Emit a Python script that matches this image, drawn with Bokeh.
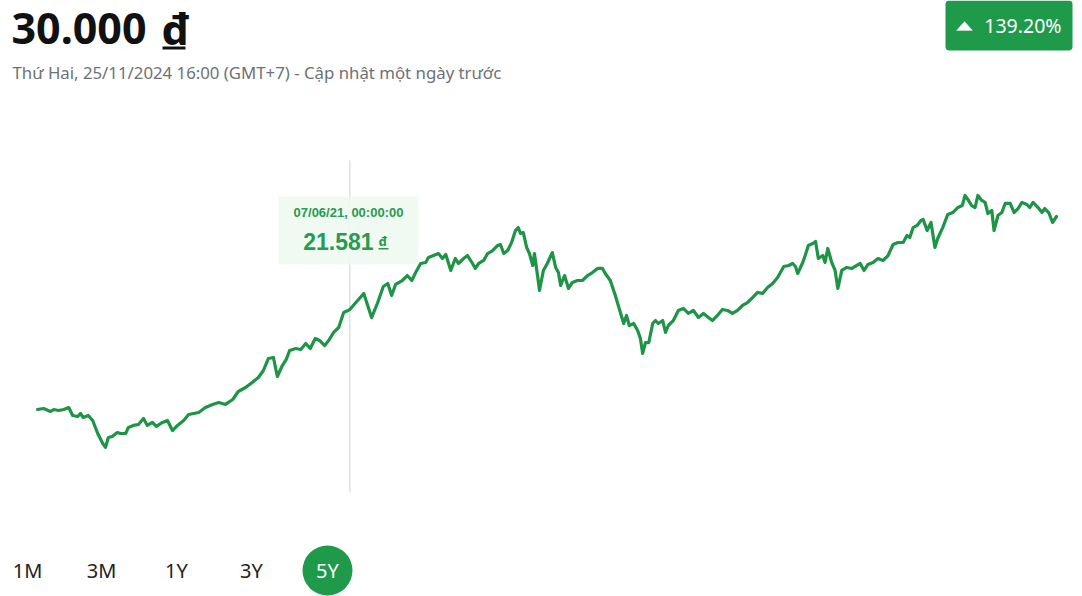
import pandas as pd
from bokeh.plotting import figure
from bokeh.models import Range1d, Label, BoxAnnotation, PolyAnnotation
from bokeh.embed import file_html
from bokeh.resources import INLINE

# ---------------- data ----------------
dates = [
    "2019-11-25", "2019-12-06", "2019-12-18", "2019-12-24", "2020-01-02", "2020-01-11",
    "2020-01-20", "2020-01-27", "2020-02-05", "2020-02-10", "2020-02-15", "2020-02-24",
    "2020-03-03", "2020-03-12", "2020-03-21", "2020-03-26", "2020-03-31", "2020-04-07",
    "2020-04-16", "2020-04-22", "2020-05-01", "2020-05-06", "2020-05-15", "2020-05-24",
    "2020-06-02", "2020-06-09", "2020-06-18", "2020-06-25", "2020-07-06", "2020-07-15",
    "2020-07-24", "2020-08-02", "2020-08-13", "2020-08-22", "2020-08-31", "2020-09-09",
    "2020-09-21", "2020-10-04", "2020-10-15", "2020-10-27", "2020-11-09", "2020-11-19",
    "2020-12-02", "2020-12-14", "2020-12-25", "2021-01-03", "2021-01-12", "2021-01-21",
    "2021-01-28", "2021-02-06", "2021-02-13", "2021-02-19", "2021-03-02", "2021-03-11",
    "2021-03-20", "2021-03-28", "2021-04-06", "2021-04-14", "2021-04-23", "2021-04-30",
    "2021-05-09", "2021-05-18", "2021-05-27", "2021-06-07", "2021-06-21", "2021-07-02",
    "2021-07-16", "2021-07-27", "2021-08-06", "2021-08-14", "2021-08-21", "2021-08-28",
    "2021-09-09", "2021-09-18", "2021-09-26", "2021-10-03", "2021-10-12", "2021-10-21",
    "2021-10-26", "2021-11-04", "2021-11-13", "2021-11-20", "2021-11-26", "2021-12-05",
    "2021-12-13", "2021-12-19", "2021-12-28", "2022-01-04", "2022-01-13", "2022-01-18",
    "2022-01-24", "2022-02-02", "2022-02-09", "2022-02-18", "2022-02-27", "2022-03-04",
    "2022-03-10", "2022-03-17", "2022-03-24", "2022-03-31", "2022-04-05", "2022-04-09",
    "2022-04-14", "2022-04-20", "2022-04-25", "2022-05-01", "2022-05-04", "2022-05-10",
    "2022-05-13", "2022-05-20", "2022-05-27", "2022-06-05", "2022-06-11", "2022-06-16",
    "2022-06-20", "2022-06-27", "2022-07-04", "2022-07-11", "2022-07-20", "2022-07-29",
    "2022-08-07", "2022-08-16", "2022-08-25", "2022-09-03", "2022-09-08", "2022-09-17",
    "2022-09-26", "2022-10-04", "2022-10-11", "2022-10-16", "2022-10-21", "2022-10-29",
    "2022-11-05", "2022-11-10", "2022-11-14", "2022-11-19", "2022-11-25", "2022-12-02",
    "2022-12-07", "2022-12-12", "2022-12-20", "2022-12-25", "2022-12-30", "2023-01-08",
    "2023-01-17", "2023-01-26", "2023-02-04", "2023-02-13", "2023-02-22", "2023-03-03",
    "2023-03-12", "2023-03-19", "2023-03-28", "2023-04-06", "2023-04-15", "2023-04-24",
    "2023-05-03", "2023-05-12", "2023-05-21", "2023-05-30", "2023-06-08", "2023-06-17",
    "2023-06-26", "2023-07-05", "2023-07-14", "2023-07-25", "2023-08-03", "2023-08-10",
    "2023-08-15", "2023-08-19", "2023-08-28", "2023-09-02", "2023-09-07", "2023-09-15",
    "2023-09-20", "2023-09-25", "2023-10-03", "2023-10-07", "2023-10-12", "2023-10-19",
    "2023-10-25", "2023-10-30", "2023-11-06", "2023-11-15", "2023-11-24", "2023-11-30",
    "2023-12-09", "2023-12-16", "2023-12-23", "2024-01-01", "2024-01-10", "2024-01-19",
    "2024-01-28", "2024-02-06", "2024-02-15", "2024-02-24", "2024-03-02", "2024-03-07",
    "2024-03-13", "2024-03-20", "2024-03-27", "2024-03-31", "2024-04-07", "2024-04-14",
    "2024-04-21", "2024-04-26", "2024-05-05", "2024-05-14", "2024-05-23", "2024-06-01",
    "2024-06-09", "2024-06-14", "2024-06-19", "2024-06-26", "2024-07-02", "2024-07-07",
    "2024-07-14", "2024-07-20", "2024-07-25", "2024-08-01", "2024-08-05", "2024-08-12",
    "2024-08-19", "2024-08-25", "2024-09-03", "2024-09-10", "2024-09-17", "2024-09-24",
    "2024-10-03", "2024-10-08", "2024-10-14", "2024-10-23", "2024-10-30", "2024-11-04",
    "2024-11-11", "2024-11-18", "2024-11-25",
]
prices = [
    12542, 12630, 12360, 12540, 12450, 12540,
    12720, 12000, 11910, 12180, 11820, 12000,
    11550, 10370, 9470, 9110, 10010, 10100,
    10460, 10370, 10370, 10920, 11100, 11190,
    11730, 11100, 11370, 11010, 11370, 11550,
    10640, 11100, 11550, 12090, 12180, 12270,
    12720, 13000, 13180, 13000, 13450, 14170,
    14530, 14990, 15440, 16070, 17160, 17250,
    15530, 16520, 17070, 17880, 18060, 17970,
    18510, 18060, 18970, 18780, 18330, 18780,
    19510, 19960, 21320, 21581, 22400, 23040,
    20860, 22220, 23670, 23940, 22850, 23850,
    24210, 24660, 24210, 24930, 25750, 25840,
    26290, 26470, 26650, 26200, 26560, 25120,
    26200, 25750, 26200, 26470, 25750, 25300,
    25750, 26020, 26650, 26920, 27380, 27470,
    26650, 26920, 27650, 28730, 29000, 28460,
    28550, 27200, 26650, 25570, 26650, 24480,
    23310, 25120, 25750, 26740, 25390, 24930,
    23760, 24660, 23490, 24030, 24210, 24210,
    24660, 24930, 25300, 25300, 24840, 24210,
    22850, 21500, 20320, 21050, 20140, 20320,
    19690, 18970, 17610, 18600, 18600, 20320,
    20590, 20320, 20590, 19510, 20140, 20590,
    21500, 21680, 21230, 21500, 20860, 21230,
    20860, 20590, 21050, 21590, 21500, 21230,
    21500, 21950, 22220, 22670, 23130, 23040,
    23580, 23940, 24480, 25480, 25570, 25750,
    25480, 24840, 25840, 26560, 27380, 27560,
    27740, 26200, 26470, 25840, 27110, 25840,
    25120, 23490, 25120, 25390, 25300, 25480,
    25750, 25120, 25660, 25840, 26200, 26020,
    26470, 27470, 27650, 27650, 28280, 28100,
    29000, 29190, 29640, 29730, 28730, 29460,
    27200, 28010, 29000, 30180, 30360, 30810,
    30990, 31900, 31540, 30990, 30810, 31900,
    31450, 31270, 30270, 30540, 28730, 30090,
    30360, 31180, 31180, 30360, 30720, 31270,
    31090, 30810, 31270, 30810, 30360, 30720,
    30360, 29460, 30000,
]
price_label = "30.000"
currency = "đ"
subtitle = "Thứ Hai, 25/11/2024 16:00 (GMT+7) - Cập nhật một ngày trước"
change_label = "139.20%"
hover_date = "2021-06-07"
hover_date_label = "07/06/21, 00:00:00"
hover_price_label = "21.581"
ranges = ["1M", "3M", "1Y", "3Y", "5Y"]
active_range = "5Y"

# ---------------- layout ----------------
W, H = 1082, 596
GREEN = "#1f9a4a"
LINE_GREEN = "#1e9447"
TIP_GREEN = "#2a9a50"

x = pd.to_datetime(dates)
ms = (x - pd.Timestamp("1970-01-01")) // pd.Timedelta("1ms")
ms0, ms1 = float(ms[0]), float(ms[-1])
px_first, px_last = 37, 1056          # screen positions of first / last point
per_px = (ms1 - ms0) / (px_last - px_first)
x_start = ms0 - px_first * per_px
x_end = x_start + W * per_px

# vertical scale: first price at screen y 409, last at screen y 216 (from top)
vy_first, vy_last = 409, 216
per_py = (prices[-1] - prices[0]) / (vy_first - vy_last)
y_end = prices[-1] + vy_last * per_py
y_start = y_end - H * per_py

p = figure(width=W, height=H, x_axis_type="datetime",
           x_range=Range1d(x_start, x_end), y_range=Range1d(y_start, y_end),
           output_backend="svg", toolbar_location=None, min_border=0,
           background_fill_color="white", border_fill_color="white")
p.axis.visible = False
p.grid.visible = False
p.outline_line_color = None


def sy(page_y):
    return H - page_y


def sx(page_x):
    return page_x


def box(l, r, t, b, **kw):
    return BoxAnnotation(left=sx(l), right=sx(r), top=sy(t), bottom=sy(b),
                         left_units="screen", right_units="screen", top_units="screen",
                         bottom_units="screen", **kw)


def label(px, py, text, size, **kw):
    opts = dict(text_align="left", text_baseline="alphabetic", text_font="Noto Sans",
                text_color="#111111")
    opts.update(kw)
    return Label(x=sx(px), y=sy(py), x_units="screen", y_units="screen", text=text,
                 text_font_size=f"{size}px", **opts)


# crosshair (drawn under the line)
hover_ms = float((pd.Timestamp(hover_date) - pd.Timestamp("1970-01-01")) // pd.Timedelta("1ms"))
p.add_layout(BoxAnnotation(left=hover_ms, right=hover_ms, left_units="data", right_units="data",
                           top=sy(160), bottom=sy(492), top_units="screen", bottom_units="screen",
                           fill_alpha=0, line_color="#8593a0", line_width=1.4, level="underlay"))

# tooltip background
p.add_layout(box(278, 418, 196, 264, fill_color="#eef9f2", fill_alpha=0.9,
                 line_color=None, level="underlay"))

p.line(x, prices, line_color=LINE_GREEN, line_width=3.2, line_join="round", line_cap="round")

# tooltip texts
p.add_layout(label(348, 212, hover_date_label, 13, text_align="center",
                   text_font="Liberation Sans", text_font_style="bold", text_color=TIP_GREEN))
p.add_layout(label(373, 241, hover_price_label, 23, text_align="right",
                   text_font="Liberation Sans", text_font_style="bold", text_color=TIP_GREEN))
p.add_layout(label(378, 240, currency, 13, text_font_style="bold", text_color=TIP_GREEN))
p.add_layout(box(378, 388, 247.5, 249, fill_color=TIP_GREEN, fill_alpha=1, line_color=None))

# header
p.add_layout(label(11, 28, price_label, 43, text_font_style="bold"))
p.add_layout(label(161, 28, currency, 43, text_font_style="bold"))
p.add_layout(box(162, 185, 46, 49, fill_color="#111111", fill_alpha=1, line_color=None))
p.add_layout(label(12, 72, subtitle, 16.8, text_color="#6d7176"))

# change badge
p.add_layout(box(945, 1072, 0, 50, fill_color=GREEN, fill_alpha=1, line_color=None,
                 border_radius=4))
p.add_layout(PolyAnnotation(xs=[sx(956), sx(972), sx(964)], ys=[sy(30), sy(30), sy(21)],
                            xs_units="screen", ys_units="screen", fill_color="white",
                            fill_alpha=1, line_color="white", line_width=1))
p.add_layout(label(1061, 25, change_label, 19.5, text_align="right", text_color="white"))

# range buttons
btn_cx = [27, 101, 176, 251, 327]
for lab, cx in zip(ranges, btn_cx):
    active = lab == active_range
    if active:
        p.add_layout(box(cx - 25, cx + 25, 545, 595, fill_color=GREEN, fill_alpha=1,
                         line_color=None, border_radius=25))
    p.add_layout(label(cx, 570, lab, 20, text_align="center",
                       text_color="white" if active else "#222222"))

open("out.html", "w").write(file_html(p, INLINE))
